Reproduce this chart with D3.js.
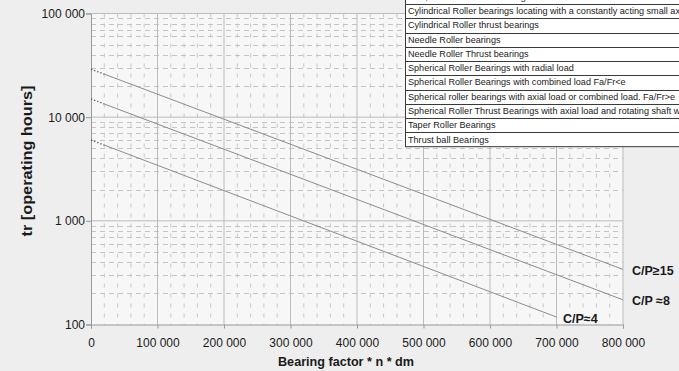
<!DOCTYPE html>
<html>
<head>
<meta charset="utf-8">
<script src="https://cdn.jsdelivr.net/npm/d3@7"></script>
<style>
  body { margin: 0; background: #eeeeee; }
  svg { display: block; font-family: Arial, "Liberation Sans", sans-serif; }
</style>
</head>
<body>
<svg id="chart" width="679" height="371"></svg>
<script>
// bearing factor (x) and life in operating hours (y)
const curveNames = ['C/P≥15', 'C/P ≈8', 'C/P≈4'];
const curveX = [
  [0, 20000, 800000],
  [0, 20000, 800000],
  [0, 20000, 700000]
];
const curveHours = [
  [29000, 26000, 340],
  [15000, 13400, 173],
  [6000, 5380, 118]
];
const xTicks = [0, 100000, 200000, 300000, 400000, 500000, 600000, 700000, 800000];
const yTicks = [100, 1000, 10000, 100000];
const legendRows = [
  'load, or with small alternating axial load',
  'Cylindrical Roller bearings locating with a constantly acting small axial load',
  'Cylindrical Roller thrust bearings',
  'Needle Roller bearings',
  'Needle Roller Thrust bearings',
  'Spherical Roller Bearings with radial load',
  'Spherical Roller Bearings with combined load Fa/Fr<e',
  'Spherical roller bearings with axial load or combined load. Fa/Fr>e',
  'Spherical Roller Thrust Bearings with axial load and rotating shaft washer',
  'Taper Roller Bearings',
  'Thrust ball Bearings'
];

const svg = d3.select('#chart');
const pLeft = 91, pRight = 623, pTop = 13.5, pBottom = 324.5;

const x = d3.scaleLinear().domain([0, 800000]).range([pLeft, pRight]);
const y = d3.scaleLog().domain([100, 100000]).range([pBottom, pTop]);

const fmt = d3.formatLocale({ decimal: '.', thousands: ' ', grouping: [3], currency: ['', ''] }).format(',');

svg.append('rect')
  .attr('x', pLeft).attr('y', pTop)
  .attr('width', pRight - pLeft).attr('height', pBottom - pTop)
  .attr('fill', '#f7f7f7');

// minor grid
const minorX = d3.range(20000, 800000, 20000).filter(v => v % 100000 !== 0);
const minorY = [];
[100, 1000, 10000].forEach(d => { for (let k = 2; k <= 9; k++) minorY.push(d * k); });

const grid = svg.append('g');
grid.selectAll('.mx').data(minorX).join('line')
  .attr('x1', d => x(d)).attr('x2', d => x(d))
  .attr('y1', pTop).attr('y2', pBottom)
  .attr('stroke', '#c8c8c8').attr('stroke-dasharray', '4,6');
grid.selectAll('.my').data(minorY).join('line')
  .attr('x1', pLeft).attr('x2', pRight)
  .attr('y1', d => Math.round(y(d)) + 0.5).attr('y2', d => Math.round(y(d)) + 0.5)
  .attr('stroke', '#c4c4c4').attr('stroke-dasharray', '5,4');

// major grid
grid.selectAll('.Mx').data(xTicks.slice(1)).join('line')
  .attr('x1', d => x(d)).attr('x2', d => x(d))
  .attr('y1', pTop).attr('y2', pBottom)
  .attr('stroke', '#bcbcbc');
grid.selectAll('.My').data(yTicks.slice(1)).join('line')
  .attr('x1', pLeft).attr('x2', pRight)
  .attr('y1', d => y(d)).attr('y2', d => y(d))
  .attr('stroke', '#bcbcbc');

// axes
const xAxis = svg.append('g')
  .attr('transform', `translate(0,${pBottom})`)
  .call(d3.axisBottom(x).tickValues(xTicks).tickFormat(fmt).tickSize(4).tickPadding(10));
const yAxis = svg.append('g')
  .attr('transform', `translate(${pLeft},0)`)
  .call(d3.axisLeft(y).tickValues(yTicks).tickFormat(fmt).tickSize(5).tickPadding(1));
[xAxis, yAxis].forEach(a => {
  a.select('.domain').attr('stroke', '#9a9a9a');
  a.selectAll('.tick line').attr('stroke', '#9a9a9a');
  a.selectAll('text').attr('font-size', 12).attr('fill', '#1a1a1a').attr('font-family', null);
});

// curves: dotted lead-in then solid
const line = d3.line().x(d => x(d[0])).y(d => y(d[1]));
curveHours.forEach((hrs, i) => {
  const pts = curveX[i].map((v, j) => [v, hrs[j]]);
  svg.append('path').datum(pts.slice(0, 2)).attr('d', line)
    .attr('fill', 'none').attr('stroke', '#555').attr('stroke-width', 1.3)
    .attr('stroke-dasharray', '1.3,2');
  svg.append('path').datum(pts.slice(1)).attr('d', line)
    .attr('fill', 'none').attr('stroke', '#8c8c8c').attr('stroke-width', 1);
});

// curve labels
const labelPos = [[632, 275], [632, 305], [563, 323]];
svg.selectAll('.cl').data(curveNames).join('text')
  .attr('x', (d, i) => labelPos[i][0]).attr('y', (d, i) => labelPos[i][1])
  .attr('font-size', 12.5).attr('font-weight', 'bold').attr('fill', '#1a1a1a')
  .text(d => d);

// axis titles
svg.append('text')
  .attr('x', 346).attr('y', 366).attr('text-anchor', 'middle')
  .attr('font-size', 12.5).attr('font-weight', 'bold').attr('fill', '#1a1a1a')
  .attr('textLength', 136).attr('lengthAdjust', 'spacingAndGlyphs')
  .text('Bearing factor * n * dm');
svg.append('text')
  .attr('transform', 'translate(32,161) rotate(-90)').attr('text-anchor', 'middle')
  .attr('font-size', 14).attr('font-weight', 'bold').attr('fill', '#1a1a1a')
  .attr('textLength', 151).attr('lengthAdjust', 'spacingAndGlyphs')
  .text('tr [operating hours]');

// legend table, cut off at top and right
const rowH = 14.27, legTop = -10.3, legX = 405;
const leg = svg.append('g');
leg.append('rect')
  .attr('x', legX + 0.5).attr('y', legTop)
  .attr('width', 300).attr('height', rowH * legendRows.length)
  .attr('fill', '#ffffff').attr('stroke', '#3a3a3a');
leg.selectAll('.rl').data(legendRows.slice(1)).join('line')
  .attr('x1', legX).attr('x2', 679)
  .attr('y1', (d, i) => Math.round(legTop + rowH * (i + 1)) + 0.5)
  .attr('y2', (d, i) => Math.round(legTop + rowH * (i + 1)) + 0.5)
  .attr('stroke', '#3a3a3a');
leg.selectAll('.rt').data(legendRows).join('text')
  .attr('x', legX + 3).attr('y', (d, i) => legTop + rowH * i + rowH / 2 + 3)
  .attr('font-size', 9.1).attr('fill', '#222')
  .text(d => d);
</script>
</body>
</html>
